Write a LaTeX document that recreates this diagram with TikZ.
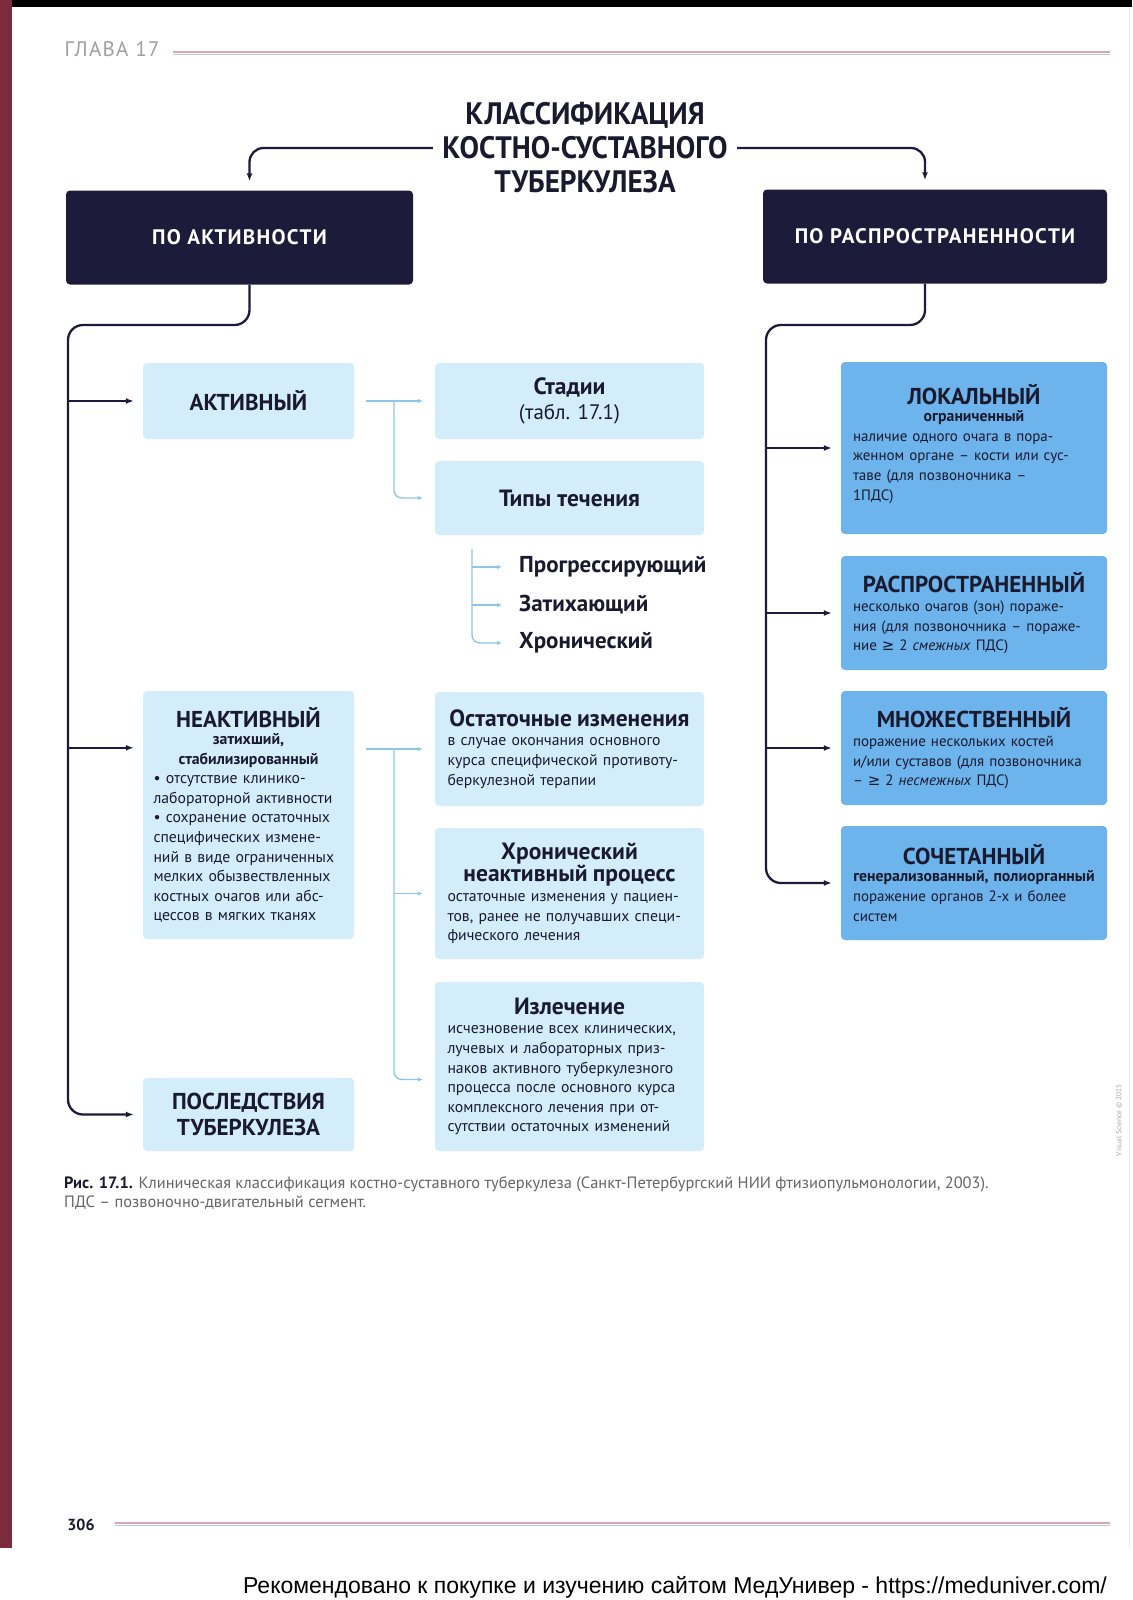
\documentclass[tikz,border=0pt]{standalone}
\usepackage{fontspec}
\setmainfont{PT Sans}
\newfontfamily\condfont[FakeStretch=0.94]{PT Sans}
\newfontfamily\widefont[LetterSpace=6]{PT Sans}
\newfontfamily\notefont{Liberation Sans}
\newfontfamily\symfont{DejaVu Sans}
\usetikzlibrary{arrows.meta,positioning}

\definecolor{navy}{HTML}{1D1B3A}
\definecolor{paleblue}{HTML}{D4EDFA}
\definecolor{midblue}{HTML}{6DB3EC}
\definecolor{linkblue}{HTML}{8CC6EA}
\definecolor{maroon}{HTML}{7B2B3B}
\definecolor{inkdark}{HTML}{1A1A2E}
\definecolor{rulepink}{HTML}{D8A6B4}

\newcommand{\boxhead}[1]{{\fontsize{23}{25}\selectfont\bfseries #1\par}}
\newcommand{\midhead}[1]{{\fontsize{23.5}{21}\selectfont\bfseries #1\par}}
\newcommand{\boxsub}[1]{{\fontsize{15.8}{17}\selectfont\bfseries #1\par}}
\newcommand{\gesym}{{\symfont ≥}}

\begin{document}
\begin{tikzpicture}[x=1pt, y=-1pt,
  navybox/.style={fill=navy, rounded corners=4pt, text=white, minimum height=94pt, font=\widefont\bfseries\fontsize{21}{24}\selectfont},
  palebox/.style={fill=paleblue, rounded corners=4pt, text=inkdark, font=\fontsize{15.7}{19.6}\selectfont},
  bluebox/.style={fill=midblue, rounded corners=4pt, text=inkdark, minimum width=266pt, text width=242pt, font=\fontsize{15}{19.6}\selectfont},
  listitem/.style={anchor=west, inner sep=2pt, text=inkdark, font=\bfseries\fontsize{23}{24}\selectfont},
  darkarrow/.style={draw=navy, line width=2.3pt, -{Latex[length=8pt,width=6pt]}},
  lightarrow/.style={draw=linkblue, line width=1.4pt, -{Latex[length=5pt,width=4.5pt]}},
]
\fill[white] (0,0) rectangle (1132,1600);
\useasboundingbox (0,0) rectangle (1132,1600);

% === PAGE FRAME ===
\fill[black] (0,0) rectangle (1132,7);
\fill[maroon] (0,0) rectangle (12,1548);
\draw[gray!15, line width=1pt] (1129,7) -- (1129,1548);
\node[text=gray!75, font=\widefont\fontsize{21}{22}\selectfont] (chap) at (112,49) {ГЛАВА 17};
\draw[rulepink, line width=1.2pt] (173,52) -- (1110,52);
\draw[gray!45, line width=0.8pt] (173,54.5) -- (1110,54.5);

% === TITLE AND TWO MAIN BRANCHES ===
\node[align=center, text=inkdark, font=\condfont\bfseries\fontsize{31}{34}\selectfont] (title) at (585,148)
  {КЛАССИФИКАЦИЯ\\КОСТНО-СУСТАВНОГО\\ТУБЕРКУЛЕЗА};

\node[navybox, minimum width=347pt] (act) at (239.5,237.5) {ПО АКТИВНОСТИ};
\node[navybox, minimum width=344pt] (spr) at (935,236.5) {ПО РАСПРОСТРАНЕННОСТИ};

\draw[darkarrow, rounded corners=14pt, shorten <=6pt, shorten >=9pt] (title.west) -| ([xshift=10pt]act.north);
\draw[darkarrow, rounded corners=14pt, shorten <=6pt, shorten >=9pt] (title.east) -| ([xshift=-10pt]spr.north);

% === BY ACTIVITY ===
\node[palebox, minimum width=211pt, minimum height=76pt] (active) at (248.5,401) {\boxhead{АКТИВНЫЙ}};
\node[palebox, minimum width=211pt, minimum height=248pt, text width=190pt] (inact) at (248.5,815)
  {\centering\boxhead{НЕАКТИВНЫЙ}\boxsub{затихший,\\[3pt]стабилизированный}\raggedright
   • отсутствие клинико-\\лабораторной активности\\• сохранение остаточных\\специфических измене-\\ний в виде ограниченных\\мелких обызвествленных\\костных очагов или абс-\\цессов в мягких тканях};
\node[palebox, minimum width=211pt, minimum height=73pt, align=center, font=\bfseries\fontsize{23}{26}\selectfont] (post) at (248.5,1114.5)
  {ПОСЛЕДСТВИЯ\\ТУБЕРКУЛЕЗА};

\node[palebox, minimum width=269pt, minimum height=76pt, align=center, font=\fontsize{21}{25}\selectfont] (stad) at (569.5,401)
  {{\fontsize{23.5}{25}\selectfont\bfseries Стадии}\\(табл. 17.1)};
\node[palebox, minimum width=269pt, minimum height=74pt, font=\bfseries\fontsize{23.5}{24}\selectfont] (types) at (569.5,498) {Типы течения};

\node[listitem] (prog) at (517,567) {Прогрессирующий};
\node[listitem] (zat) at (517,605) {Затихающий};
\node[listitem] (hron) at (517,643) {Хронический};

\node[palebox, minimum width=269pt, minimum height=114pt, text width=244pt] (ost) at (569.5,749)
  {\centering\midhead{Остаточные изменения}\raggedright
   в случае окончания основного\\курса специфической противоту-\\беркулезной терапии};
\node[palebox, minimum width=269pt, minimum height=131pt, text width=244pt] (chrinact) at (569.5,893.5)
  {\centering\midhead{Хронический\\неактивный процесс}\raggedright
   остаточные изменения у пациен-\\тов, ранее не получавших специ-\\фического лечения};
\node[palebox, minimum width=269pt, minimum height=169pt, text width=244pt] (izl) at (569.5,1066.5)
  {\centering\midhead{Излечение}\raggedright
   исчезновение всех клинических,\\лучевых и лабораторных приз-\\наков активного  туберкулезного\\процесса после основного курса\\комплексного лечения при от-\\сутствии остаточных изменений};

% activity tree
\coordinate (ltrunk) at (68,325);
\coordinate (inactin) at ([yshift=-57pt]inact.north west);
\draw[darkarrow, rounded corners=15pt, shorten >=9pt] ([xshift=10pt]act.south) |- (ltrunk) |- (post.west);
\draw[darkarrow, shorten >=9pt] (ltrunk |- active.west) -- (active.west);
\draw[darkarrow, shorten >=9pt] (ltrunk |- inactin) -- (inactin);

\coordinate (afork) at (394,401);
\draw[lightarrow, shorten <=12pt, shorten >=12pt] (active.east) -- (stad.west);
\draw[lightarrow, rounded corners=8pt, shorten >=12pt] (afork) |- (types.west);

\coordinate (tfork) at (472,549);
\draw[lightarrow, rounded corners=8pt, shorten >=15pt] (tfork) |- (hron.west);
\draw[lightarrow, shorten >=15pt] (tfork |- prog.west) -- (prog.west);
\draw[lightarrow, shorten >=15pt] (tfork |- zat.west) -- (zat.west);

\coordinate (ifork) at (394,749);
\coordinate (izlin) at ([yshift=-13pt]izl.west);
\draw[lightarrow, shorten <=12pt, shorten >=12pt] (ost.west -| inact.east) -- (ost.west);
\draw[lightarrow, shorten >=12pt] (ifork |- chrinact.west) -- (chrinact.west);
\draw[lightarrow, rounded corners=8pt, shorten >=12pt] (ifork) |- (izlin);

% === BY EXTENT ===
\node[bluebox, minimum height=172pt] (lok) at (974,448)
  {\centering\boxhead{ЛОКАЛЬНЫЙ}\boxsub{ограниченный}\raggedright
   наличие одного очага в пора-\\женном органе – кости или сус-\\таве (для позвоночника –\\1ПДС)\par\vspace{8pt}};
\node[bluebox, minimum height=114pt] (rasp) at (974,613)
  {\centering\boxhead{РАСПРОСТРАНЕННЫЙ}\raggedright
   несколько очагов (зон) пораже-\\ния (для позвоночника – пораже-\\ние \gesym{} 2 \textit{смежных} ПДС)};
\node[bluebox, minimum height=114pt] (mnozh) at (974,748)
  {\centering\boxhead{МНОЖЕСТВЕННЫЙ}\raggedright
   поражение нескольких костей\\и/или суставов (для позвоночника\\– \gesym{} 2 \textit{несмежных} ПДС)};
\node[bluebox, minimum height=114pt] (soch) at (974,883)
  {\centering\boxhead{СОЧЕТАННЫЙ}\boxsub{генерализованный, полиорганный}\raggedright
   поражение органов 2-х и более\\систем};

\coordinate (rtrunk) at (766,325);
\draw[darkarrow, rounded corners=15pt, shorten >=9pt] ([xshift=-10pt]spr.south) |- (rtrunk) |- (soch.west);
\foreach \n in {lok,rasp,mnozh}
  \draw[darkarrow, shorten >=9pt] (rtrunk |- \n.west) -- (\n.west);

% === CAPTION AND FOOTER ===
\node[anchor=north west, align=left, inner sep=0pt, text=gray!80!black, font=\fontsize{16.4}{19}\selectfont] (caption) at (64,1176)
  {\textcolor{inkdark}{\textbf{Рис. 17.1.}} Клиническая классификация костно-суставного туберкулеза (Санкт-Петербургский НИИ фтизиопульмонологии, 2003).\\ПДС – позвоночно-двигательный сегмент.};
\node[rotate=90, text=gray!70, font=\fontsize{7.5}{9}\selectfont] (credit) at (1119,1120) {Visual Science © 2015};
\node[text=inkdark, font=\bfseries\fontsize{16}{18}\selectfont] (page) at (81,1525) {306};
\draw[rulepink, line width=1.2pt] (115,1523) -- (1110,1523);
\draw[gray!45, line width=0.8pt] (115,1525.5) -- (1110,1525.5);
\node[font=\notefont\fontsize{23}{24}\selectfont] (promo) at (675,1587)
  {Рекомендовано к покупке и изучению сайтом МедУнивер - https://meduniver.com/};
\end{tikzpicture}
\end{document}
